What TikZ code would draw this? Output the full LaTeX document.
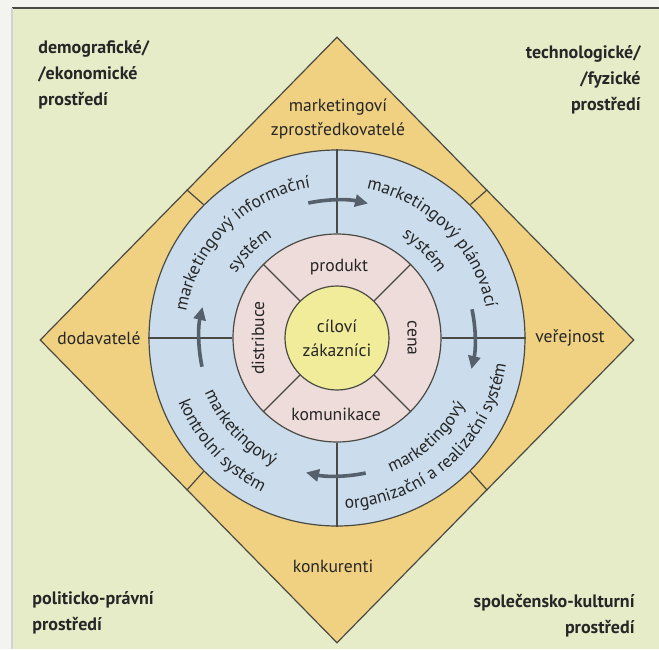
\documentclass[tikz,border=0pt]{standalone}
\usepackage{fontspec}
\setmainfont{PT Sans}
\usetikzlibrary{arrows.meta, shapes.geometric, decorations.text}

\definecolor{pagegray}{HTML}{F3F3EF}
\definecolor{panelgreen}{HTML}{E6EBC8}
\definecolor{envyellow}{HTML}{F0D182}
\definecolor{sysblue}{HTML}{CBDDEC}
\definecolor{mixpink}{HTML}{DDBDBB}
\definecolor{mixlight}{HTML}{EEDCDA}
\definecolor{coreyellow}{HTML}{F1EC9A}
\definecolor{linegray}{HTML}{4A4A44}
\definecolor{arrowslate}{HTML}{56606C}
\definecolor{txt}{HTML}{262626}

% lighter towards the middle of the marketing mix ring
\pgfdeclareradialshading{mixshade}{\pgfpoint{0bp}{0bp}}{%
  color(0bp)=(mixlight); color(25bp)=(mixlight); color(50bp)=(mixpink)}

\newcommand{\ringfont}{\fontsize{8.8}{12}\selectfont}

\begin{document}
\begin{tikzpicture}[
  x=0.5pt, y=0.5pt,
  ring/.style={circle, draw=linegray, line width=0.6pt, inner sep=0pt},
  lbl/.style={text=txt, font=\ringfont, align=center, inner sep=0pt},
  corner/.style={text=txt, font=\fontsize{9}{13}\selectfont\bfseries, inner sep=0pt},
  divider/.style={draw=linegray, line width=0.6pt},
  flow/.style={draw=arrowslate, line width=1.8pt, -{Triangle[length=6.5pt, width=6pt]}},
  arctext/.style={decorate, decoration={text along path, text align=center,
    text color=txt, text={|\ringfont|#1}}}
]
\useasboundingbox (-337,-311) rectangle (322,338);
\fill[pagegray] (-337,-311) rectangle (322,338);
\fill[panelgreen] (-325,-311) rectangle (322,330);
\draw[linegray, line width=0.8pt] (-325,330) -- (322,330);
\draw[gray!35, line width=0.6pt] (-325,-311) -- (-325,330);

% environment, systems, mix, customers
\node[diamond, draw=linegray, line width=0.6pt, fill=envyellow, inner sep=0pt,
  minimum width=297pt, minimum height=303pt] (env) at (0,-2) {};
\node[ring, fill=sysblue, minimum size=188pt] (sys) at (0,0) {};
\node[ring, shading=mixshade, minimum size=104pt] (mix) at (0,0) {};
\node[ring, fill=coreyellow, minimum size=52pt, lbl] (core) at (0,0) {cíloví\\zákazníci};

% dividing lines
\foreach \a in {45,135,225,315} {
  \draw[divider] (core.\a) -- (mix.\a);
  \draw[divider] (sys.\a) -- (env.\a);
}
\foreach \a in {0,90,180,270}
  \draw[divider] (mix.\a) -- (sys.\a);

% marketing mix
\node[lbl] (prod) at (2,71) {produkt};
\node[lbl] (kom) at (-1,-76) {komunikace};
\node[lbl, rotate=90] (distr) at (-79,0) {distribuce};
\node[lbl, rotate=-90] (cena) at (75,0) {cena};

% marketing systems
\path[arctext={marketingový informační}] (190:153) arc[start angle=190, end angle=80, radius=153];
\path[arctext={systém}] (190:120) arc[start angle=190, end angle=80, radius=120];
\path[arctext={marketingový plánovací}] (100:152) arc[start angle=100, end angle=-10, radius=152];
\path[arctext={systém}] (100:120) arc[start angle=100, end angle=-10, radius=120];
\path[arctext={marketingový}] (-103:145) arc[start angle=-103, end angle=7, radius=145];
\path[arctext={organizační a realizační systém}] (-103:171) arc[start angle=-103, end angle=7, radius=171];
\path[arctext={marketingový}] (168:143) arc[start angle=168, end angle=278, radius=143];
\path[arctext={kontrolní systém}] (168:171) arc[start angle=168, end angle=278, radius=171];

% cycle arrows
\foreach \a in {90,0,-90,180}
  \draw[flow] (\a+12:138) arc[start angle=\a+12, end angle=\a-13, radius=138];

% actors
\node[lbl, text width=90pt] (mezi) at (1,219) {marketingoví\\zprostředkovatelé};
\node[lbl] (dod) at (-238,0) {dodavatelé};
\node[lbl] (ver) at (233,0) {veřejnost};
\node[lbl] (konk) at (-4,-228) {konkurenti};

% macro environment
\node[corner, anchor=north west, align=left] (demo) at (-299,298) {demografické/\\/ekonomické\\prostředí};
\node[corner, anchor=north east, align=right] (tech) at (304,293) {technologické/\\/fyzické\\prostředí};
\node[corner, anchor=north west, align=left] (polit) at (-305,-253) {politicko-právní\\prostředí};
\node[corner, anchor=north east, align=right] (spol) at (298,-256) {společensko-kulturní\\prostředí};
\end{tikzpicture}
\end{document}
